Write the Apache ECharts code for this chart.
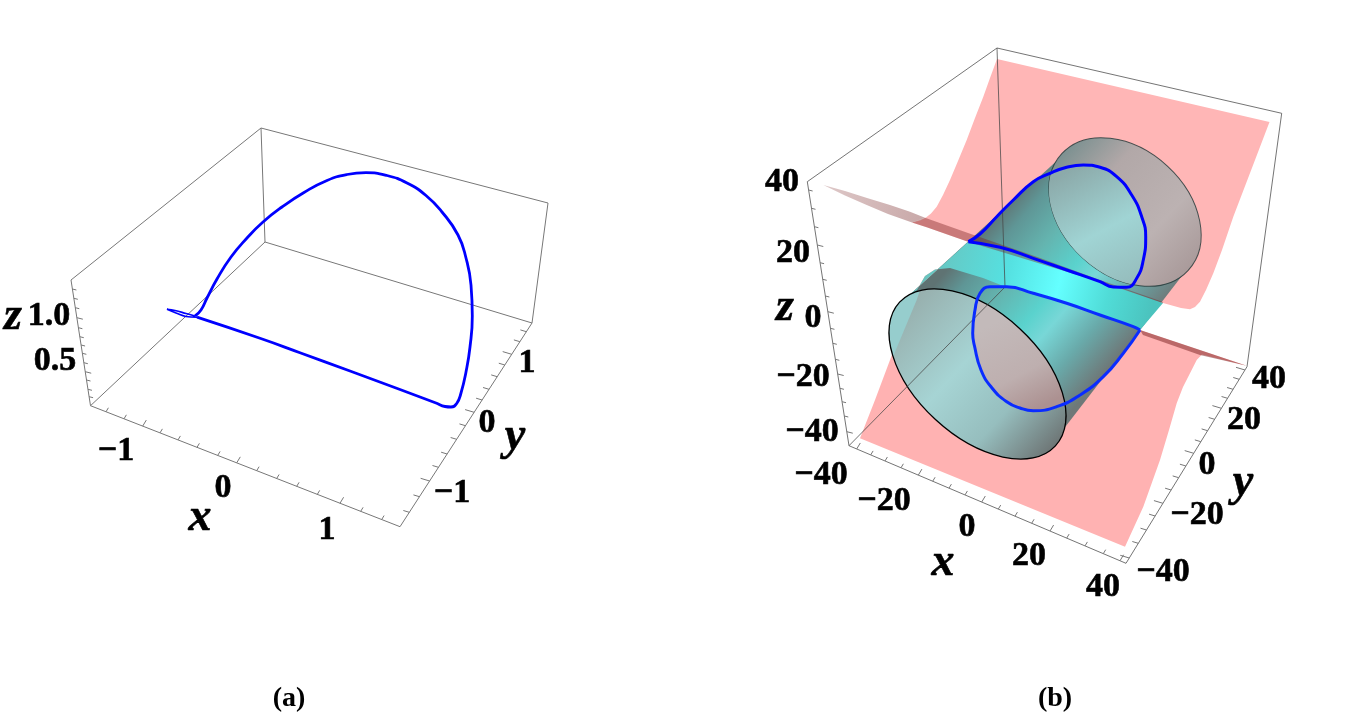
<!DOCTYPE html>
<html>
<head>
<meta charset="utf-8">
<style>
  html, body { margin: 0; padding: 0; background: #fff; }
  #main { width: 1348px; height: 716px; }
</style>
<script src="https://cdn.jsdelivr.net/npm/echarts@6/dist/echarts.min.js"></script>
</head>
<body>
<div id="main"></div>
<script>

// panel (a) box
const boxA = [
  [[71, 280], [261, 128], [548, 203]],
  [[261, 128], [265, 242]],
  [[90.5, 405.7], [265, 242], [532, 323]],
  [[548, 203], [532, 323], [400, 526.7], [90.5, 405.7], [71, 280]]
]
// panel (a) curve
const curveALoop = [
  [197, 317.2], [186, 316.5], [176, 313], [167, 309.3], [175, 310.5], [186, 313.5], [195, 316]
]
const curveA = [
  [197, 317.2], [260, 338.3], [300, 352.7], [350, 371], [400, 389.5], [436, 403], [445, 406.5], [451, 407],
  [456.7, 403.5], [461, 393], [466, 372], [470, 347], [472.3, 316], [471, 285], [466, 258], [458, 235], [442, 212],
  [426, 195.5], [407, 183], [387, 175.5], [366, 172.7], [347, 174.5], [327, 180.5], [304, 192.5], [282, 207], [263, 222],
  [247, 238], [231, 257], [217, 279], [207, 298], [201, 310], [195, 316]
]
const ticksAx = [106, 124, 142.7, 160, 178, 197, 217.7, 236.7, 256.7, 276.7, 296.7, 317.3, 340, 360.7, 381.7]
const ticksAxMajor = [2, 7, 12]
const ticksAy = [512.3, 496.7, 481, 467.3, 454, 439.3, 425.7, 412.3, 400, 389.3, 376.7, 365, 354.3, 341.7, 331.7]
const ticksAyMajor = [2, 7, 12]
const ticksAz = [289, 298.3, 307.7, 317.7, 327.7, 336.7, 345, 353.3, 362.7, 371.7, 380, 389.3, 396.7]
const ticksAzMajor = [3, 9]

// panel (b) box
const boxB = [
  [[807.3, 181.7], [997, 48], [1281.7, 113.3]],
  [[997, 48], [1005, 287]],
  [[849, 445.7], [1005, 287]],
  [[1281.7, 113.3], [1247, 366.7], [1126, 563.3], [849, 445.7], [807.3, 181.7]]
]
const ticksBx = [856.7, 870.7, 885, 901, 918.3, 932.7, 949, 965, 981.7, 998.3, 1015, 1031.7, 1050, 1066.7, 1085, 1103.3, 1120]
const ticksBxMajor = [0, 4, 8, 12, 16]
const ticksBy = [558, 543.3, 530, 516, 503.3, 490, 477.7, 466, 453.3, 441.7, 430.7, 419.3, 408.3, 398.3, 389.3, 379.3, 370]
const ticksByMajor = [0, 4, 8, 12, 16]
const ticksBz = [190, 208.3, 226.7, 245, 262.7, 279.3, 296, 311.7, 328.3, 343.3, 359.3, 374, 388.3, 401.7, 416, 431.7]
const ticksBzMajor = [3, 7, 11, 15]

// panel (b) sheet outlines
const sheetUpper = [
  [997, 59], [1269.5, 122], [1255, 160], [1233.3, 216.7], [1222, 250], [1213.3, 273.3], [1206, 290], [1200, 301.7], [1195, 307],
  [1190, 309.3], [1181, 308], [1163, 303], [1117, 287], [968, 241.7], [926.7, 227.3], [912, 222.5], [920, 220.5], [926, 217.5], [931, 213.5], [936.7, 206.7],
  [943, 195], [950, 180], [958, 161], [966.7, 140], [975, 118], [983.3, 96.7], [990, 78]
]
const sheetLower = [
  [860, 438.3], [875, 400], [890, 360], [903, 325], [917, 290], [925, 276], [935, 269.5], [950, 268], [983, 278], [1005, 285.5], [1140, 330],
  [1246.7, 365.7], [1202, 354.5], [1196.7, 360], [1190, 373.3], [1183, 387], [1176.7, 403.3], [1169, 430], [1160, 460], [1143.3, 506.7], [1125, 546.7]
]
const wedgeTip = [
  [823.3, 185], [845, 191], [867, 198], [890, 205], [910, 211.7], [925, 217.7], [912, 222.5], [888, 214], [866.7, 205], [845, 195.5]
]
const darkStrip = [
  [925, 217.7], [968, 233], [1040, 258], [1100, 280], [1163, 302], [1163, 303], [1117, 287], [968, 241.7], [926.7, 227.3], [912, 222.5]
]
const darkStripRight = [
  [1140, 330], [1200, 350], [1246.7, 365.7], [1200, 355], [1143, 335]
]

// panel (b) cylinder: centre, half axes, tilt in degrees
const ellipseFront = [977.5, 374, 106, 62, 42.7]
const ellipseBack = [1125, 212, 86, 62.5, 42.7]
const cylinderBody = [[905, 299], [1061, 157], [1188, 268], [1059, 435]]
const cylinderBand = [
  [905, 299], [968.3, 241.7], [1000, 247.3], [1033.3, 258.3], [1066.7, 270], [1100, 281.7], [1163, 303], [1140, 330], [1100, 315], [1066.7, 303.3],
  [1033.3, 293.3], [1006, 287], [983, 278], [950, 268], [935, 269.5], [925, 276], [917, 290]
]
const frontSliver = [[920, 290], [880, 290], [880, 360], [893, 356.7], [905, 328], [916.7, 300]]
const curveBUpper = [
  [968.3, 241.7], [980, 234], [996.7, 216.7], [1013.3, 200], [1033.3, 181.7], [1050, 173.3], [1066.7, 167.3], [1083.3, 165], [1100, 167.3], [1116.7, 176.7],
  [1131.7, 195], [1141.7, 216.7], [1145.7, 236.7], [1143.3, 260], [1136.7, 278.3], [1126.7, 287.3], [1113.3, 287], [1100, 281.7], [1066.7, 270], [1033.3, 258.3], [1000, 247.3], [968.3, 241.7]
]
const curveBLower = [
  [1140, 330], [1133.3, 326.7], [1100, 315], [1066.7, 303.3], [1033.3, 293.3], [1006.7, 286.7], [990, 286.7], [980, 293.3], [975, 310], [972.7, 333.3],
  [974.5, 346], [981, 370], [992, 388], [1006.7, 401.7], [1020, 408], [1033.3, 410.7], [1056.7, 406.7], [1080, 395], [1103.3, 376.7], [1123.3, 353.3], [1140, 330]
]

// tick labels and axis names: x, y, text
const numberLabels = [
  [49, 316, '1.0'], [55, 361, '0.5'], [116, 451, '−1'], [223, 488, '0'], [327, 530, '1'], [452, 493, '−1'], [487, 423, '0'], [527, 363, '1'],
  [782, 182, '40'], [793, 253, '20'], [813, 318, '0'], [803, 377, '−20'], [812, 432, '−40'],
  [821, 475, '−40'], [884, 501, '−20'], [967, 527, '0'], [1029, 556, '20'], [1103, 587, '40'],
  [1163, 572, '−40'], [1197, 515, '−20'], [1207, 465, '0'], [1244, 420, '20'], [1269, 379, '40']
]
const axisNames = [
  [13, 317, 'z'], [200, 518, 'x'], [515, 437, 'y'], [785, 308, 'z'], [943, 563, 'x'], [1243, 483, 'y']
]
const panelNames = [[289, 699, '(a)'], [1055, 699, '(b)']]

const linear = (x, y, x2, y2, stops) => new echarts.graphic.LinearGradient(x, y, x2, y2, stops.map((s) => ({ offset: s[0], color: s[1] })), true)

function ellipseEl(api, e) {
  const c = api.coord([e[0], e[1]])
  return { type: 'ellipse', x: c[0], y: c[1], rotation: -e[4] * Math.PI / 180, shape: { cx: 0, cy: 0, rx: e[2], ry: e[3] } }
}

// one filled outline, placed through the axes
function poly(points, style, clipTo) {
  return {
    type: 'custom',
    coordinateSystem: 'cartesian2d',
    silent: true,
    data: [points[0]],
    clip: false,
    renderItem: (params, api) => {
      const el = { type: 'polygon', shape: { points: points.map((p) => api.coord(p)) }, style: style }
      if (clipTo) el.clipPath = ellipseEl(api, clipTo)
      return el
    }
  }
}

function disc(e, style) {
  return {
    type: 'custom',
    coordinateSystem: 'cartesian2d',
    silent: true,
    data: [[e[0], e[1]]],
    clip: false,
    renderItem: (params, api) => Object.assign(ellipseEl(api, e), { style: style })
  }
}

function line(points, color, width, smooth) {
  return {
    type: 'line',
    data: points,
    silent: true,
    symbol: 'none',
    smooth: smooth || false,
    lineStyle: { color: color, width: width },
    emphasis: { disabled: true }
  }
}

// short marks leaving an axis edge; pos is read along x or y of the edge
function ticks(p0, p1, list, useY, major, dx, dy) {
  const k = useY ? 1 : 0
  return list.map((v, i) => {
    const t = (v - p0[k]) / (p1[k] - p0[k])
    const a = [p0[0] + (p1[0] - p0[0]) * t, p0[1] + (p1[1] - p0[1]) * t]
    const f = major.includes(i) ? 1.5 : 1
    return line([a, [a[0] + dx * f, a[1] + dy * f]], '#777', 1)
  })
}

function labels(list, font) {
  return {
    type: 'scatter',
    silent: true,
    symbolSize: 0,
    itemStyle: { opacity: 1 },
    data: list.map((d) => ({ value: [d[0], d[1]], text: d[2] })),
    label: Object.assign({
      show: true,
      position: 'inside',
      align: 'center',
      verticalAlign: 'middle',
      color: '#000',
      opacity: 1,
      textBorderColor: '#000',
      textBorderWidth: 0.6,
      formatter: (p) => p.data.text
    }, font)
  }
}

const acrossBody = [[0, 'rgb(95,115,115)'], [0.12, 'rgb(95,150,150)'], [0.3, 'rgb(100,180,175)'], [0.5, 'rgb(90,210,205)'],
  [0.62, 'rgb(120,215,215)'], [0.8, 'rgb(105,170,170)'], [1, 'rgb(110,120,120)']]
const alongBand = [[0, 'rgb(105,195,190)'], [0.35, 'rgb(85,225,225)'], [0.58, 'rgb(100,255,255)'], [0.8, 'rgb(80,220,215)'], [1, 'rgb(75,195,190)']]

const series = [
  // panel a
  ...boxA.map((b) => line(b, '#777', 1)),
  ...ticks(boxA[3][2], boxA[3][3], ticksAx, false, ticksAxMajor, 2.4, -4),
  ...ticks(boxA[3][2], boxA[3][1], ticksAy, true, ticksAyMajor, -6, -1.8),
  ...ticks(boxA[3][4], boxA[3][3], ticksAz, true, ticksAzMajor, 4, 1),
  line(curveALoop, '#0000ff', 1.6, 0.4),
  line(curveA, '#0000ff', 2.8, 0.5),
  // panel b surfaces
  poly(sheetUpper, { fill: 'rgb(255,182,182)' }),
  poly(sheetLower, { fill: 'rgb(255,178,178)' }),
  poly(wedgeTip, { fill: linear(823, 185, 925, 222, [[0, 'rgb(222,200,200)'], [1, 'rgb(200,168,168)']]) }),
  poly(cylinderBody, { fill: linear(985, 226, 1126, 348, acrossBody) }),
  poly(cylinderBand, { fill: linear(930, 255, 1150, 315, alongBand) }),
  // back disc, its gradient runs along the tilted long axis
  disc(ellipseBack, {
    fill: linear(-85, 0, 85, 0, [[0, 'rgb(125,145,145)'], [0.28, 'rgb(178,168,168)'], [0.7, 'rgb(188,178,178)'], [1, 'rgb(170,155,155)']]),
    stroke: linear(1060, 240, 1190, 160, [[0, 'rgba(40,60,60,0.85)'], [0.5, 'rgba(45,25,25,0.9)'], [1, 'rgba(50,10,10,0.95)']]),
    lineWidth: 1
  }),
  poly(curveBUpper, { fill: linear(1070, 170, 1130, 280, [[0, 'rgb(140,170,170)'], [0.55, 'rgb(160,212,212)'], [1, 'rgb(150,190,190)']]) }, ellipseBack),
  poly(darkStrip, { fill: 'rgba(120,30,30,0.4)' }),
  poly(darkStripRight, { fill: 'rgba(120,30,30,0.5)' }),
  // front disc
  disc(ellipseFront, {
    fill: linear(-106, 0, 106, 0, [[0, 'rgb(150,172,170)'], [0.42, 'rgb(166,212,212)'], [0.72, 'rgb(150,190,190)'], [1, 'rgb(110,118,118)']])
  }),
  poly(frontSliver, { fill: 'rgb(150,205,205)' }, ellipseFront),
  poly(curveBLower, { fill: linear(1000, 320, 1045, 405, [[0, 'rgb(195,186,186)'], [0.6, 'rgb(190,175,175)'], [1, 'rgb(172,145,145)']]) }, ellipseFront),
  disc(ellipseFront, { fill: 'none', stroke: '#000', lineWidth: 1.3 }),
  // panel b box drawn over the surfaces, it shows through them
  ...boxB.map((b) => line(b, 'rgba(70,70,70,0.75)', 1)),
  ...ticks(boxB[3][2], boxB[3][3], ticksBx, false, ticksBxMajor, 2.4, -4),
  ...ticks(boxB[3][2], boxB[3][1], ticksBy, true, ticksByMajor, -6, -1.8),
  ...ticks(boxB[3][4], boxB[3][3], ticksBz, true, ticksBzMajor, 4, 1),
  line(curveBUpper, '#0000ff', 3, 0.5),
  line(curveBLower, '#0a2cff', 3, 0.5),
  labels(numberLabels, { fontFamily: 'Liberation Serif', fontWeight: 'bold', fontSize: 34 }),
  labels(axisNames, { fontFamily: 'Liberation Serif', fontWeight: 'bold', fontStyle: 'italic', fontSize: 46 }),
  labels(panelNames, { fontFamily: 'Liberation Serif', fontWeight: 'bold', fontSize: 28, textBorderWidth: 0 })
]

const myChart = echarts.init(document.getElementById('main'))
myChart.setOption({
  animation: false,
  grid: { left: 0, right: 0, top: 0, bottom: 0 },
  xAxis: { type: 'value', min: 0, max: 1348, show: false },
  yAxis: { type: 'value', min: 0, max: 716, inverse: true, show: false },
  series: series
})
</script>
</body>
</html>
